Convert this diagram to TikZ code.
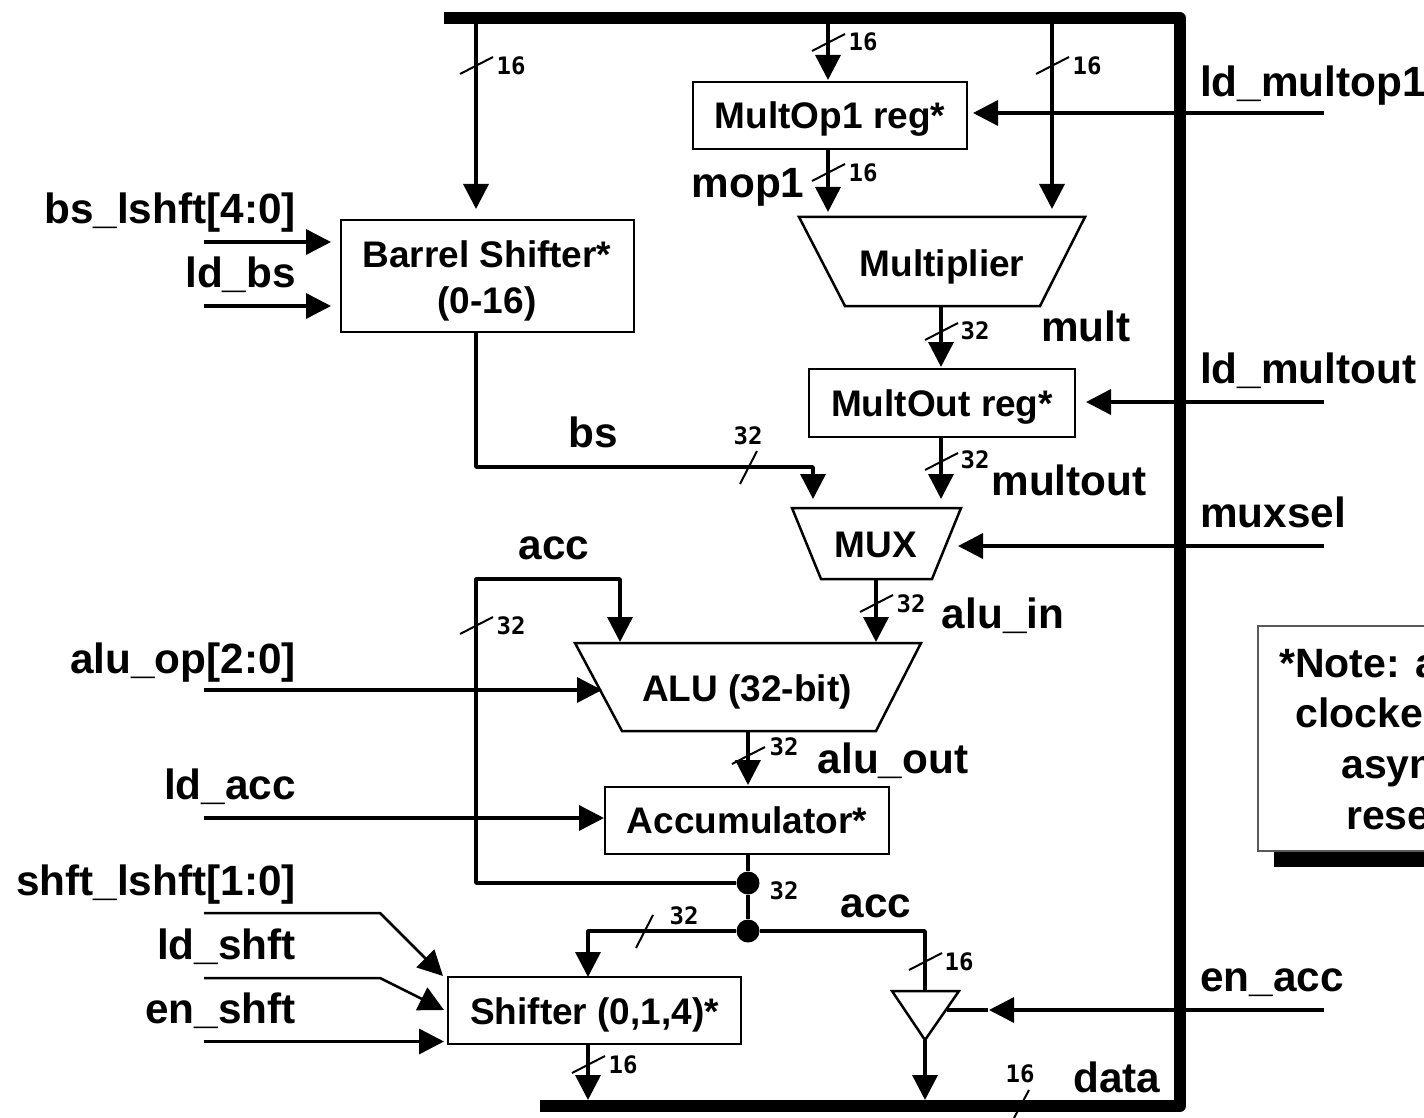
\documentclass[tikz,border=0pt]{standalone}
\usepackage{fontspec}
\setmainfont{Liberation Sans}
\newfontfamily\widthfont{DejaVu Sans Mono}
\usetikzlibrary{arrows.meta}
\tikzset{
  x=1pt,y=-1pt,
  wire/.style={line width=3.5pt,line join=round},
  arr/.style={wire,-{Triangle[length=25pt,width=25pt]}},
  thinarr/.style={line width=2.5pt,line join=round,-{Triangle[length=25pt,width=25pt]}},
  bus/.style={line width=12pt,line join=round},
  tick/.style={line width=2pt},
  blockbox/.style={draw,line width=2.5pt,inner sep=0pt,fill=white,font=\fontsize{37}{46}\selectfont\bfseries,align=center},
  shapeline/.style={draw,line width=2.5pt,line join=miter,fill=white},
  shapetext/.style={inner sep=0pt,font=\fontsize{37}{46}\selectfont\bfseries,anchor=base},
  sig/.style={inner sep=0pt,font=\fontsize{42.3}{46}\selectfont\bfseries},
  lsig/.style={sig,anchor=base east},
  rsig/.style={sig,anchor=base west},
  csig/.style={sig,anchor=base},
  notetext/.style={inner sep=0pt,font=\fontsize{41}{46}\selectfont\bfseries,anchor=base west},
  wd/.style={inner sep=0pt,font=\fontsize{24}{24}\selectfont\widthfont\bfseries},
  dotj/.style={circle,fill=black,inner sep=0pt,minimum size=23pt},
}
\newcommand{\busmark}[2]{\draw[tick] (#1-16,#2+8.5) -- (#1+17,#2-8.5);}
\begin{document}
\begin{tikzpicture}
\useasboundingbox (0,0) rectangle (1424,1118);
\clip (0,0) rectangle (1424,1118);
% buses
\coordinate (bt0) at (444,18.5);
\coordinate (bt1) at (1180,18.5);
\coordinate (bb1) at (1180,1106);
\coordinate (bb0) at (540,1106);
\draw[bus] (bt0) -- (bt1) -- (bb1) -- (bb0);
% blocks
\node[blockbox,minimum width=274pt,minimum height=67pt,text height=26pt,text depth=0pt] (mo1) at (830,115.5) {MultOp1 reg*};
\node[blockbox,minimum width=293pt,minimum height=112pt] (bsh) at (487.5,276) {};
\node[shapetext] (bsh1) at (487,267) {Barrel Shifter*};
\node[shapetext] (bsh2) at (487,313) {(0-16)};
\node[blockbox,minimum width=266pt,minimum height=68pt,text height=26pt,text depth=0pt] (mout) at (942,403) {MultOut reg*};
\node[blockbox,minimum width=284pt,minimum height=67pt,text height=26pt,text depth=0pt] (accu) at (747,820.5) {Accumulator*};
\node[blockbox,minimum width=293pt,minimum height=67pt,text height=27pt,text depth=0pt] (shf) at (594.5,1010.5) {Shifter (0,1,4)*};
\draw[shapeline] (799,217) -- (1085,217) -- (1040,306) -- (845,306) -- cycle;
\node[shapetext] (mul) at (942,276) {Multiplier};
\draw[shapeline] (792,508) -- (961,508) -- (932,579) -- (821,579) -- cycle;
\node[shapetext] (mux) at (876,557) {MUX};
\draw[shapeline] (575,643) -- (921,643) -- (876,731) -- (622,731) -- cycle;
\node[shapetext] (alu) at (747,701) {ALU (32-bit)};
% tri-state buffer
\coordinate (tbL) at (892,991);
\coordinate (tbR) at (959,991);
\coordinate (tbT) at (925,1040);
\coordinate (tbE) at (947,1010);
\draw[shapeline] (tbL) -- (tbR) -- (tbT) -- cycle;
% junctions
\node[dotj] (j1) at (748,883) {};
\node[dotj] (j2) at (748,931) {};
% data bus to blocks
\draw[arr] (476,24) coordinate (a1) -- (476,209) coordinate (a1e);
\draw[arr] (828,24) coordinate (a2) -- (828,80) coordinate (a2e);
\draw[arr] (1052,24) coordinate (a3) -- (1052,209) coordinate (a3e);
\draw[arr] (828,149) coordinate (a4) -- (828,212) coordinate (a4e);
\draw[arr] (941,306) coordinate (a5) -- (941,367) coordinate (a5e);
\draw[arr] (941,437) coordinate (a6) -- (941,499) coordinate (a6e);
\draw[arr] (876,579) coordinate (a7) -- (876,642) coordinate (a7e);
\draw[arr] (748,731) coordinate (a8) -- (748,785) coordinate (a8e);
% barrel shifter output
\draw[arr] (476,332) coordinate (b0) -- (476,467) coordinate (b1) -- (813,467) coordinate (b2) -- (813,499) coordinate (b3);
% accumulator feedback
\draw[wire] (accu.south -| j1) -- (j1);
\draw[wire] (j1) -- (j2);
\coordinate (f1) at (476,883);
\coordinate (f2) at (476,579);
\coordinate (f3) at (620,579);
\coordinate (f4) at (620,642);
\draw[arr] (j1) -- (f1) -- (f2) -- (f3) -- (f4);
% shifter and acc
\coordinate (s1) at (588,931);
\coordinate (s2) at (588,977);
\draw[arr] (j2) -- (s1) -- (s2);
\coordinate (t1) at (925,931);
\draw[wire] (j2) -- (t1) -- (925,991);
\draw[arr] (588,1044) coordinate (s3) -- (588,1100) coordinate (s4);
\draw[arr] (tbT) -- (925,1100) coordinate (t3);
% control inputs
\draw[arr] (1324,113) coordinate (c1) -- (973,113) coordinate (c1e);
\draw[arr] (1324,402) coordinate (c2) -- (1086,402) coordinate (c2e);
\draw[arr] (1324,546) coordinate (c3) -- (958,546) coordinate (c3e);
\draw[wire] (tbE) -- (988,1010) coordinate (c4s);
\draw[arr] (1324,1010) coordinate (c4) -- (989,1010) coordinate (c4e);
\draw[arr] (204,242) coordinate (d1) -- (331,242) coordinate (d1e);
\draw[arr] (204,306) coordinate (d2) -- (331,306) coordinate (d2e);
\draw[arr] (204,690) coordinate (d3) -- (602,690) coordinate (d3e);
\draw[arr] (204,818) coordinate (d4) -- (604,818) coordinate (d4e);
\draw[arr] (204,1041.5) coordinate (d5) -- (444,1041.5) coordinate (d5e);
\draw[thinarr] (204,913) coordinate (d6) -- (380,913) coordinate (d6m) -- (443,976) coordinate (d6e);
\draw[thinarr] (204,978) coordinate (d7) -- (380,978) coordinate (d7m) -- (444,1010) coordinate (d7e);
% bus width ticks
\busmark{476}{65.5}
\busmark{828}{42.5}
\busmark{1052}{65.5}
\busmark{828}{172.5}
\busmark{941}{331.5}
\busmark{941}{461.5}
\busmark{876}{603.5}
\busmark{476}{625.5}
\busmark{748}{755.5}
\busmark{925}{961.5}
\busmark{588}{1064.5}
\draw[tick] (740,484) -- (757,451);
\draw[tick] (636,948) -- (653,915);
\draw[tick] (1029,1090) -- (1014,1118);
\node[wd] (w1) at (511,66) {16};
\node[wd] (w2) at (863,42) {16};
\node[wd] (w3) at (1087,66) {16};
\node[wd] (w4) at (863,173) {16};
\node[wd] (w5) at (975,331) {32};
\node[wd] (w6) at (748,436) {32};
\node[wd] (w7) at (975,460) {32};
\node[wd] (w8) at (911,604) {32};
\node[wd] (w9) at (511,626) {32};
\node[wd] (w10) at (784,747) {32};
\node[wd] (w11) at (784,891) {32};
\node[wd] (w12) at (684,916) {32};
\node[wd] (w13) at (959,962) {16};
\node[wd] (w14) at (623,1065) {16};
\node[wd] (w15) at (1020,1074) {16};
% signal labels
\node[lsig] (l1) at (296,223) {bs\_lshft[4:0]};
\node[lsig] (l2) at (296,287) {ld\_bs};
\node[lsig] (l3) at (296,673) {alu\_op[2:0]};
\node[lsig] (l4) at (296,799) {ld\_acc};
\node[lsig] (l5) at (296,895) {shft\_lshft[1:0]};
\node[lsig] (l6) at (296,959) {ld\_shft};
\node[lsig] (l7) at (296,1023) {en\_shft};
\node[rsig] (r1) at (1200,97) {ld\_multop1};
\node[rsig] (r2) at (1200,383) {ld\_multout};
\node[rsig] (r3) at (1200,527) {muxsel};
\node[rsig] (r4) at (1200,991) {en\_acc};
\node[csig] (n1) at (748,198) {mop1};
\node[csig] (n2) at (1086,341) {mult};
\node[csig] (n3) at (593,447) {bs};
\node[csig] (n4) at (1069,495) {multout};
\node[csig] (n5) at (554,559) {acc};
\node[csig] (n6) at (1003,628) {alu\_in};
\node[csig] (n7) at (893,773) {alu\_out};
\node[csig] (n8) at (876,917) {acc};
\node[csig] (n9) at (1117,1092) {data};
% note
\fill[black] (1274,700) rectangle (1440,867);
\draw[line width=1.5pt,draw=black!65,fill=white] (1258,626) rectangle (1440,851);
\node[notetext] (note1) at (1279,677) {*Note: a};
\node[notetext] (note2) at (1295,727) {clocke};
\node[notetext] (note3) at (1341,778) {asyn};
\node[notetext] (note4) at (1346,829) {rese};
\end{tikzpicture}
\end{document}
